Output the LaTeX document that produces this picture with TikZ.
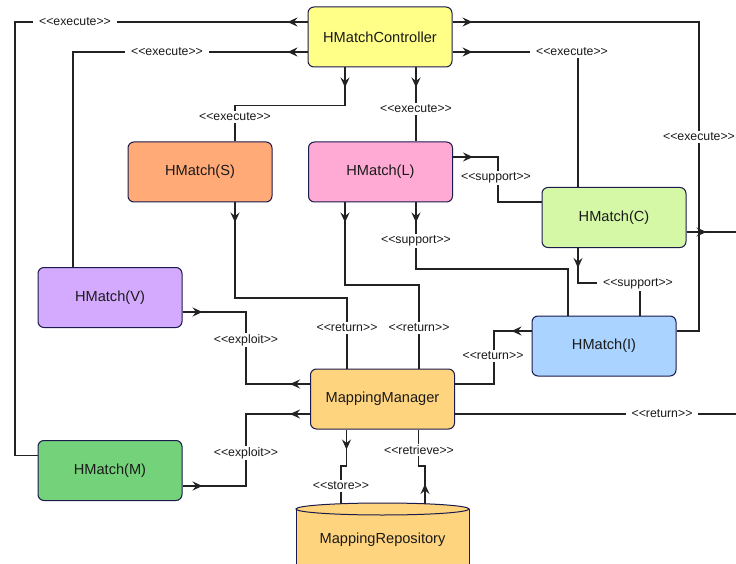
\documentclass[tikz,border=0pt]{standalone}
\usepackage{fontspec}
\setmainfont{Liberation Sans}
\usetikzlibrary{arrows.meta,decorations.markings}
\definecolor{ctrlC}{HTML}{FFFF88}
\definecolor{sC}{HTML}{FFAA77}
\definecolor{lC}{HTML}{FFAAD4}
\definecolor{cC}{HTML}{D5F8A6}
\definecolor{vC}{HTML}{D4AAFF}
\definecolor{iC}{HTML}{AAD4FF}
\definecolor{mmC}{HTML}{FFD47E}
\definecolor{mC}{HTML}{74D27A}
\definecolor{borderC}{HTML}{1A1A4D}
\definecolor{lineC}{HTML}{222222}
\definecolor{txtC}{HTML}{1A1A1A}
\newcommand{\stereo}[1]{<{}<#1>{}>}
\tikzset{
  box/.style={draw=borderC, line width=1pt, rounded corners=6pt, minimum width=144pt, minimum height=60pt, inner sep=0pt, text=txtC, font=\fontsize{14.6}{17}\selectfont},
  lbl/.style={fill=white, inner xsep=6pt, inner ysep=1.5pt, text=txtC, font=\fontsize{12.3}{14}\selectfont},
  tipstyle/.tip={Stealth[length=10pt,width=9pt,inset=3.5pt]},
  conn/.style={draw=lineC, line width=1.2pt},
  flow/.style={conn, postaction={decorate}, decoration={markings, mark=at position 20pt with {\arrow{tipstyle}}}},
  flowtwo/.style={conn, postaction={decorate}, decoration={markings, mark=at position 20pt with {\arrow{tipstyle}}, mark=at position -20pt with {\arrowreversed{tipstyle}}}}
}
\begin{document}
\begin{tikzpicture}[x=1pt,y=-1pt]
\useasboundingbox[fill=white] (0,0) rectangle (736,564);

% cylinder
\fill[mmC] (296,509) rectangle (469,580);
\draw[borderC, line width=1pt] (296,509) -- (296,580) (469,509) -- (469,580);
\filldraw[fill=mmC, draw=borderC, line width=1pt] (382.5,509) ellipse [x radius=86.5pt, y radius=6pt];
\node[text=txtC, font=\fontsize{14.6}{17}\selectfont] (repo) at (382.5,540) {MappingRepository};
\coordinate (repoA) at (341,504);
\coordinate (repoB) at (425,504);
\coordinate (offC) at (740,232);
\coordinate (offMM) at (740,414);

% nodes
\node[box, fill=ctrlC] (ctrl) at (380,37) {HMatchController};
\node[box, fill=sC] (S) at (200,172) {HMatch(S)};
\node[box, fill=lC] (L) at (380.5,172) {HMatch(L)};
\node[box, fill=cC] (C) at (614,217.5) {HMatch(C)};
\node[box, fill=vC] (V) at (110,297.5) {HMatch(V)};
\node[box, fill=iC] (I) at (604,346) {HMatch(I)};
\node[box, fill=mmC] (MM) at (382.5,399) {MappingManager};
\node[box, fill=mC] (M) at (110,470.5) {HMatch(M)};

% connectors
\draw[flow] ([yshift=15pt]ctrl.west) -- (15,22) |- ([yshift=15pt]M.west);
\draw[flow] ([yshift=-15pt]ctrl.west) -| ([xshift=-37pt]V.north);
\draw[flow] ([xshift=-35pt]ctrl.south) -- ++(0,38) -| ([xshift=35pt]S.north);
\draw[flow] ([xshift=36pt]ctrl.south) -- ([xshift=35.5pt]L.north);
\draw[flow] ([yshift=15pt]ctrl.east) -- (699,22) |- ([yshift=15pt]I.east);
\draw[flow] ([yshift=-15pt]ctrl.east) -| ([xshift=-36pt]C.north);
\draw[flow] ([yshift=15pt]L.east) -- (498,157) |- ([yshift=15.5pt]C.west);
\draw[flow] ([xshift=-36pt]C.south) -- (578,283) -| ([xshift=36pt]I.north);
\draw[flow] ([xshift=35.5pt]L.south) -- (416,269) -| ([xshift=-36pt]I.north);
\draw[flow] ([xshift=35pt]S.south) -- (235,298) -| ([xshift=-35.5pt]MM.north);
\draw[flow] ([xshift=-35.5pt]L.south) -- (345,285) -| ([xshift=36.5pt]MM.north);
\draw[flowtwo] ([yshift=-14.5pt]V.east) -- (246,312) |- ([yshift=15pt]MM.west);
\draw[flowtwo] ([yshift=-15pt]MM.west) -- (246,414) |- ([yshift=-15.5pt]M.east);
\draw[conn] ([yshift=-15pt]MM.east) -- (offMM);
\draw[flow] ([yshift=15pt]I.west) -- (494,331) |- ([yshift=15pt]MM.east);
\draw[flow] ([xshift=-36pt]MM.south) -- (346.5,466) -| (repoA);
\draw[flow] (repoB) -- (425,466) -| ([xshift=36pt]MM.south);
\draw[flow] ([yshift=-14.5pt]C.east) -- (offC);

% labels
\node[lbl] (l1) at (75,22) {\stereo{execute}};
\node[lbl] (l2) at (167,52) {\stereo{execute}};
\node[lbl] (l3) at (235,117) {\stereo{execute}};
\node[lbl] (l4) at (416,109) {\stereo{execute}};
\node[lbl] (l5) at (699,137) {\stereo{execute}};
\node[lbl] (l6) at (572,52) {\stereo{execute}};
\node[lbl] (l7) at (496,178) {\stereo{support}};
\node[lbl] (l8) at (638,284) {\stereo{support}};
\node[lbl] (l9) at (416,241) {\stereo{support}};
\node[lbl] (l10) at (347,328) {\stereo{return}};
\node[lbl] (l11) at (419,328) {\stereo{return}};
\node[lbl] (l12) at (246,340) {\stereo{exploit}};
\node[lbl] (l13) at (246,453) {\stereo{exploit}};
\node[lbl] (l14) at (662,414) {\stereo{return}};
\node[lbl] (l15) at (493,356) {\stereo{return}};
\node[lbl] (l16) at (341,486) {\stereo{store}};
\node[lbl] (l17) at (419,450) {\stereo{retrieve}};
\end{tikzpicture}
\end{document}
